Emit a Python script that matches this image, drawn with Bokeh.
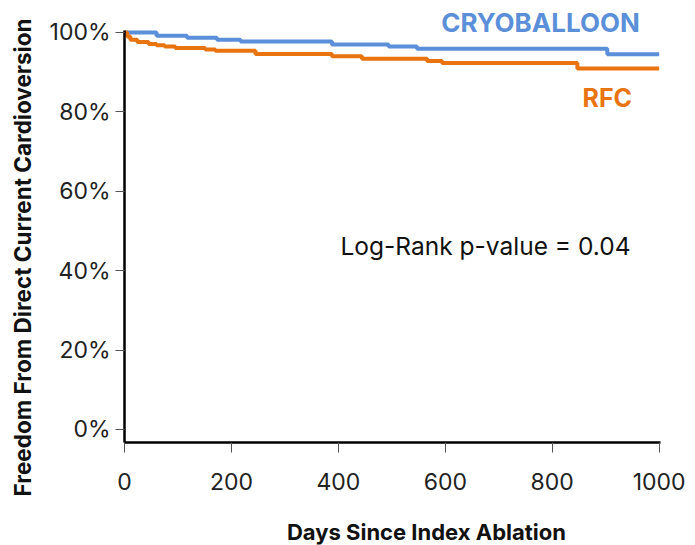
import math
from bokeh.plotting import figure
from bokeh.layouts import row, column
from bokeh.models import Range1d, FixedTicker, Label
from bokeh.embed import file_html
from bokeh.resources import INLINE

# Kaplan-Meier curves: day of each event and freedom from DC cardioversion (%) after it
cryo_days = [0, 60, 117, 173, 217, 388, 494, 547, 903, 1000]
cryo_surv = [100.0, 99.2, 98.7, 98.2, 97.7, 97.0, 96.5, 95.9, 94.5, 94.5]

rfc_days = [0, 5, 11, 24, 45, 60, 75, 95, 151, 170, 245, 388, 444, 566, 594, 847, 1000]
rfc_surv = [100.0, 99.0, 98.2, 97.6, 97.1, 96.8, 96.5, 96.1, 95.7, 95.4, 94.6,
            94.0, 93.4, 92.8, 92.3, 90.9, 90.9]

x_ticks = [0, 200, 400, 600, 800, 1000]
y_ticks = [0, 20, 40, 60, 80, 100]
y_tick_labels = ["0%", "20%", "40%", "60%", "80%", "100%"]

series_names = ["CRYOBALLOON", "RFC"]
p_value_text = "Log-Rank p-value = 0.04"
x_title = "Days Since Index Ablation"
y_title = "Freedom From Direct Current Cardioversion"

BLUE = "#5b8fd9"
ORANGE = "#e8730f"
FONT = "Inter"

# ---- main plot ----
p = figure(
    frame_width=536, frame_height=442,
    min_border_left=84, min_border_right=35,
    min_border_top=0, min_border_bottom=58,
    x_range=Range1d(0, 1002.5), y_range=Range1d(-3.3, 108.06),
    output_backend="svg", toolbar_location=None,
)
p.outline_line_color = None
p.xgrid.visible = False
p.ygrid.visible = False
p.background_fill_color = "white"
p.border_fill_color = "white"

p.step(cryo_days, cryo_surv, mode="after", line_color=BLUE, line_width=4)
p.step(rfc_days, rfc_surv, mode="after", line_color=ORANGE, line_width=4)

xa = p.xaxis[0]
xa.ticker = FixedTicker(ticks=x_ticks)
xa.axis_line_width = 2.5
xa.axis_line_color = "black"
xa.major_tick_in = 0
xa.major_tick_out = 10
xa.major_tick_line_color = "#555555"
xa.minor_tick_line_color = None
xa.major_label_standoff = 20
xa.major_label_text_font = FONT
xa.major_label_text_font_size = "23px"
xa.major_label_text_color = "#222222"

ya = p.yaxis[0]
ya.ticker = FixedTicker(ticks=y_ticks)
ya.major_label_overrides = {t: lab for t, lab in zip(y_ticks, y_tick_labels)}
ya.bounds = (-3.3, 100.5)
ya.axis_line_width = 2.5
ya.axis_line_color = "black"
ya.major_tick_in = 0
ya.major_tick_out = 9
ya.major_tick_line_color = "#555555"
ya.minor_tick_line_color = None
ya.major_label_standoff = 5
ya.major_label_text_font = FONT
ya.major_label_text_font_size = "23px"
ya.major_label_text_color = "#222222"

p.add_layout(Label(
    x=778, y=102.5, text=series_names[0], text_align="center", text_baseline="middle",
    text_font=FONT, text_font_style="bold", text_font_size="26px", text_color=BLUE,
))
p.add_layout(Label(
    x=903, y=83.6, text=series_names[1], text_align="center", text_baseline="middle",
    text_font=FONT, text_font_style="bold", text_font_size="25px", text_color=ORANGE,
))
p.add_layout(Label(
    x=404, y=46.1, text=p_value_text, text_align="left", text_baseline="middle",
    text_font=FONT, text_font_size="24.5px", text_color="#111111",
))


def title_strip(width, height):
    f = figure(
        width=width, height=height, min_border=0,
        x_range=Range1d(0, width), y_range=Range1d(0, height),
        x_axis_type=None, y_axis_type=None,
        output_backend="svg", toolbar_location=None,
    )
    f.outline_line_color = None
    f.background_fill_color = "white"
    f.border_fill_color = "white"
    return f


# ---- axis title strips ----
px = title_strip(655, 45)
px.add_layout(Label(
    x=369, y=14, text=x_title, text_align="center", text_baseline="middle",
    text_font=FONT, text_font_style="bold", text_font_size="22px", text_color="#111111",
))

py = title_strip(40, 545)
py.add_layout(Label(
    x=22, y=288, angle=math.pi / 2, text=y_title, text_align="center",
    text_baseline="middle",
    text_font=FONT, text_font_style="bold", text_font_size="22.5px", text_color="#111111",
))

layout = row(py, column(p, px, spacing=0), spacing=0)

open("out.html", "w").write(file_html(layout, INLINE))
